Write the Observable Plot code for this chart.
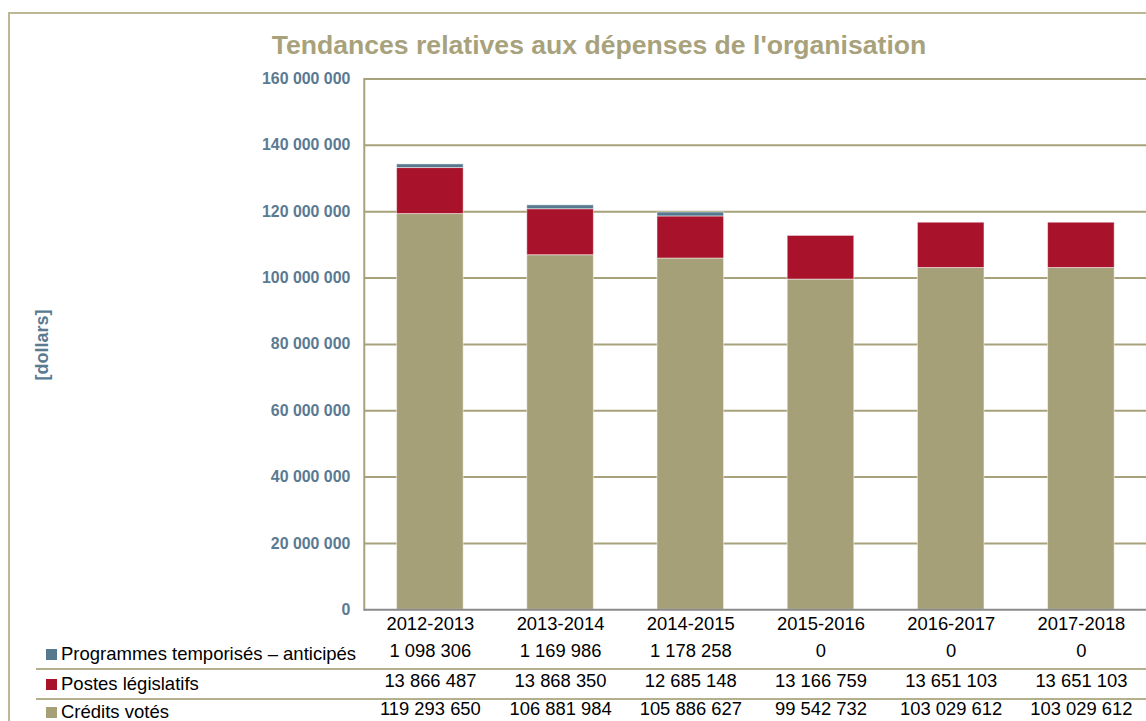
<!DOCTYPE html>
<html>
<head>
<meta charset="utf-8">
<script src="https://cdn.jsdelivr.net/npm/d3@7"></script>
<script src="https://cdn.jsdelivr.net/npm/@observablehq/plot@0.6"></script>
<style>
  html, body { margin: 0; padding: 0; background: #fff; overflow: hidden; width: 1146px; height: 721px; }
  body { position: relative; font-family: "Liberation Sans", Arial, sans-serif; }
  #frame { position: absolute; left: 8px; top: 12px; width: 1200px; height: 800px; border: 2px solid #bcb893; box-sizing: border-box; }
  #title { position: absolute; left: 0; width: 1198px; top: 30px; text-align: center; font-weight: bold; font-size: 26.6px; color: #a8a27c; }
  #chart { position: absolute; left: 0; top: 0; }
  #ylab { position: absolute; left: 42px; top: 345px; transform: translate(-50%, -50%) rotate(-90deg); font-weight: bold; font-size: 18px; color: #5a7a92; white-space: nowrap; }
  .sep { position: absolute; left: 36px; width: 1150px; height: 2px; background: #b4af8c; }
  .rowlab { position: absolute; left: 46px; font-size: 18.5px; color: #000; transform: translateY(-50%); white-space: nowrap; }
  .sw { display: inline-block; width: 11px; height: 11px; margin-right: 4px; vertical-align: 0px; }
</style>
</head>
<body>
<div id="frame"></div>
<div id="title">Tendances relatives aux dépenses de l'organisation</div>
<div id="chart"></div>
<div id="ylab">[dollars]</div>
<div id="rows"></div>
<script>
const years = ["2012-2013", "2013-2014", "2014-2015", "2015-2016", "2016-2017", "2017-2018"];
const seriesNames = ["Crédits votés", "Postes législatifs", "Programmes temporisés – anticipés"];
const credits = [119293650, 106881984, 105886627, 99542732, 103029612, 103029612];
const postes = [13866487, 13868350, 12685148, 13166759, 13651103, 13651103];
const programmes = [1098306, 1169986, 1178258, 0, 0, 0];
const yTicks = [0, 20000000, 40000000, 60000000, 80000000, 100000000, 120000000, 140000000, 160000000];
const seriesColors = ["#a5a077", "#a8122b", "#56798f"];

const seriesValues = [credits, postes, programmes];
const data = seriesNames.flatMap((s, i) => years.map((y, j) => ({year: y, series: s, value: seriesValues[i][j]})));
const fmt = d => d3.format(",")(d).replace(/,/g, " ");

const W = 1153, H = 721;
const chart = Plot.plot({
  width: W,
  height: H,
  marginLeft: 366,
  marginRight: 0,
  marginTop: 79,
  marginBottom: 108,
  style: {fontFamily: "Liberation Sans, Arial, sans-serif", background: "transparent"},
  x: {domain: years, paddingInner: 0.49, paddingOuter: 0.245, axis: null},
  y: {domain: [0, 160000000], axis: null},
  color: {domain: seriesNames, range: seriesColors},
  marks: [
    Plot.ruleY(yTicks.filter(d => d > 0), {stroke: "#a8a27c", strokeWidth: 2}),
    Plot.frame({anchor: "left", stroke: "#a8a27c", strokeWidth: 2}),
    Plot.barY(data, {x: "year", y: "value", fill: "series", stroke: "#ffffff", strokeOpacity: 0.5, strokeWidth: 1}),
    Plot.ruleY([0], {stroke: "#8a8a8a", strokeWidth: 2}),
    Plot.axisY({ticks: yTicks, tickSize: 0, tickPadding: 14, tickFormat: fmt, fontWeight: "bold", fontSize: 16, fill: "#5a7a92", label: null}),
    Plot.text(years, {x: d => d, text: d => d, frameAnchor: "bottom", dy: 14, lineAnchor: "middle", fontSize: 18.5, fill: "#000"}),
    Plot.text(data.filter(d => d.series === seriesNames[2]), {x: "year", text: d => fmt(d.value), frameAnchor: "bottom", dy: 42, lineAnchor: "middle", fontSize: 18.5, fill: "#000"}),
    Plot.text(data.filter(d => d.series === seriesNames[1]), {x: "year", text: d => fmt(d.value), frameAnchor: "bottom", dy: 72, lineAnchor: "middle", fontSize: 18.5, fill: "#000"}),
    Plot.text(data.filter(d => d.series === seriesNames[0]), {x: "year", text: d => fmt(d.value), frameAnchor: "bottom", dy: 100, lineAnchor: "middle", fontSize: 18.5, fill: "#000"})
  ]
});
document.getElementById("chart").appendChild(chart);

// table row labels and separators
const rows = document.getElementById("rows");
const rowOrder = [2, 1, 0];
const rowY = [654, 684, 712];
rowOrder.forEach((si, k) => {
  const lab = document.createElement("div");
  lab.className = "rowlab";
  lab.style.top = rowY[k] + "px";
  lab.innerHTML = `<span class="sw" style="background:${seriesColors[si]}"></span>${seriesNames[si]}`;
  rows.appendChild(lab);
});
[669, 699].forEach(y => {
  const s = document.createElement("div");
  s.className = "sep";
  s.style.top = (y - 1) + "px";
  rows.appendChild(s);
});
</script>
</body>
</html>
